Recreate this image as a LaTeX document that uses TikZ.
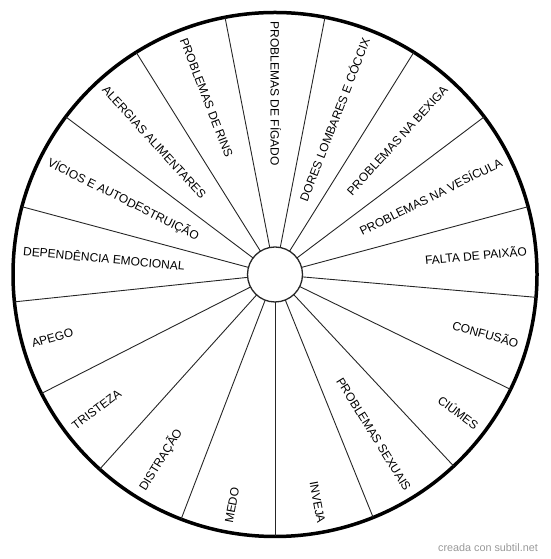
\documentclass[tikz,border=0pt]{standalone}
\usepackage{fontspec}
\setmainfont{Liberation Sans}
\usetikzlibrary{calc}
\begin{document}
\begin{tikzpicture}[
  wheeltext/.style={font=\fontsize{12}{14}\selectfont, inner sep=0pt, text height=8.6pt, text depth=0pt},
  spoke/.style={draw=black!85, line width=0.9pt},
]
\useasboundingbox (0,0) rectangle (550pt,559pt);
\coordinate (C) at (275pt,284.5pt);
\node[circle, draw, line width=3.5pt, minimum size=524pt, inner sep=0pt, outer sep=0pt] (outer) at (C) {};
\node[circle, draw=black!85, line width=1.3pt, fill=white, minimum size=55pt, inner sep=0pt, outer sep=0pt] (inner) at (C) {};
\foreach \i in {0,...,16} {
  \pgfmathsetmacro\a{90-(\i+0.5)*360/17}
  \draw[spoke] (inner.\a) -- (outer.\a);
}
\foreach \lab [count=\i from 0] in {PROBLEMAS DE FÍGADO, DORES LOMBARES E CÓCCIX, PROBLEMAS NA BEXIGA, PROBLEMAS NA VESÍCULA, FALTA DE PAIXÃO, CONFUSÃO, CIÚMES, PROBLEMAS SEXUAIS, INVEJA, MEDO, DISTRAÇÃO, TRISTEZA, APEGO, DEPENDÊNCIA EMOCIONAL, VÍCIOS E AUTODESTRUIÇÃO, ALERGIAS ALIMENTARES, PROBLEMAS DE RINS} {
  \pgfmathsetmacro\a{90-\i*360/17}
  \ifnum\i=0 \def\inw{1}\else\ifnum\i>8 \def\inw{1}\else\def\inw{0}\fi\fi
  \ifnum\inw=1
    \node[wheeltext, anchor=west, rotate=\a+180] (L\i) at ($(C)+(\a:253pt)$) {\lab};
  \else
    \node[wheeltext, anchor=east, rotate=\a] (L\i) at ($(C)+(\a:253pt)$) {\lab};
  \fi
}
\node[anchor=east, inner sep=0pt, text=black!40, font=\fontsize{10.8}{12}\selectfont] (mark) at (538pt,11pt) {creada con subtil.net};
\end{tikzpicture}
\end{document}
